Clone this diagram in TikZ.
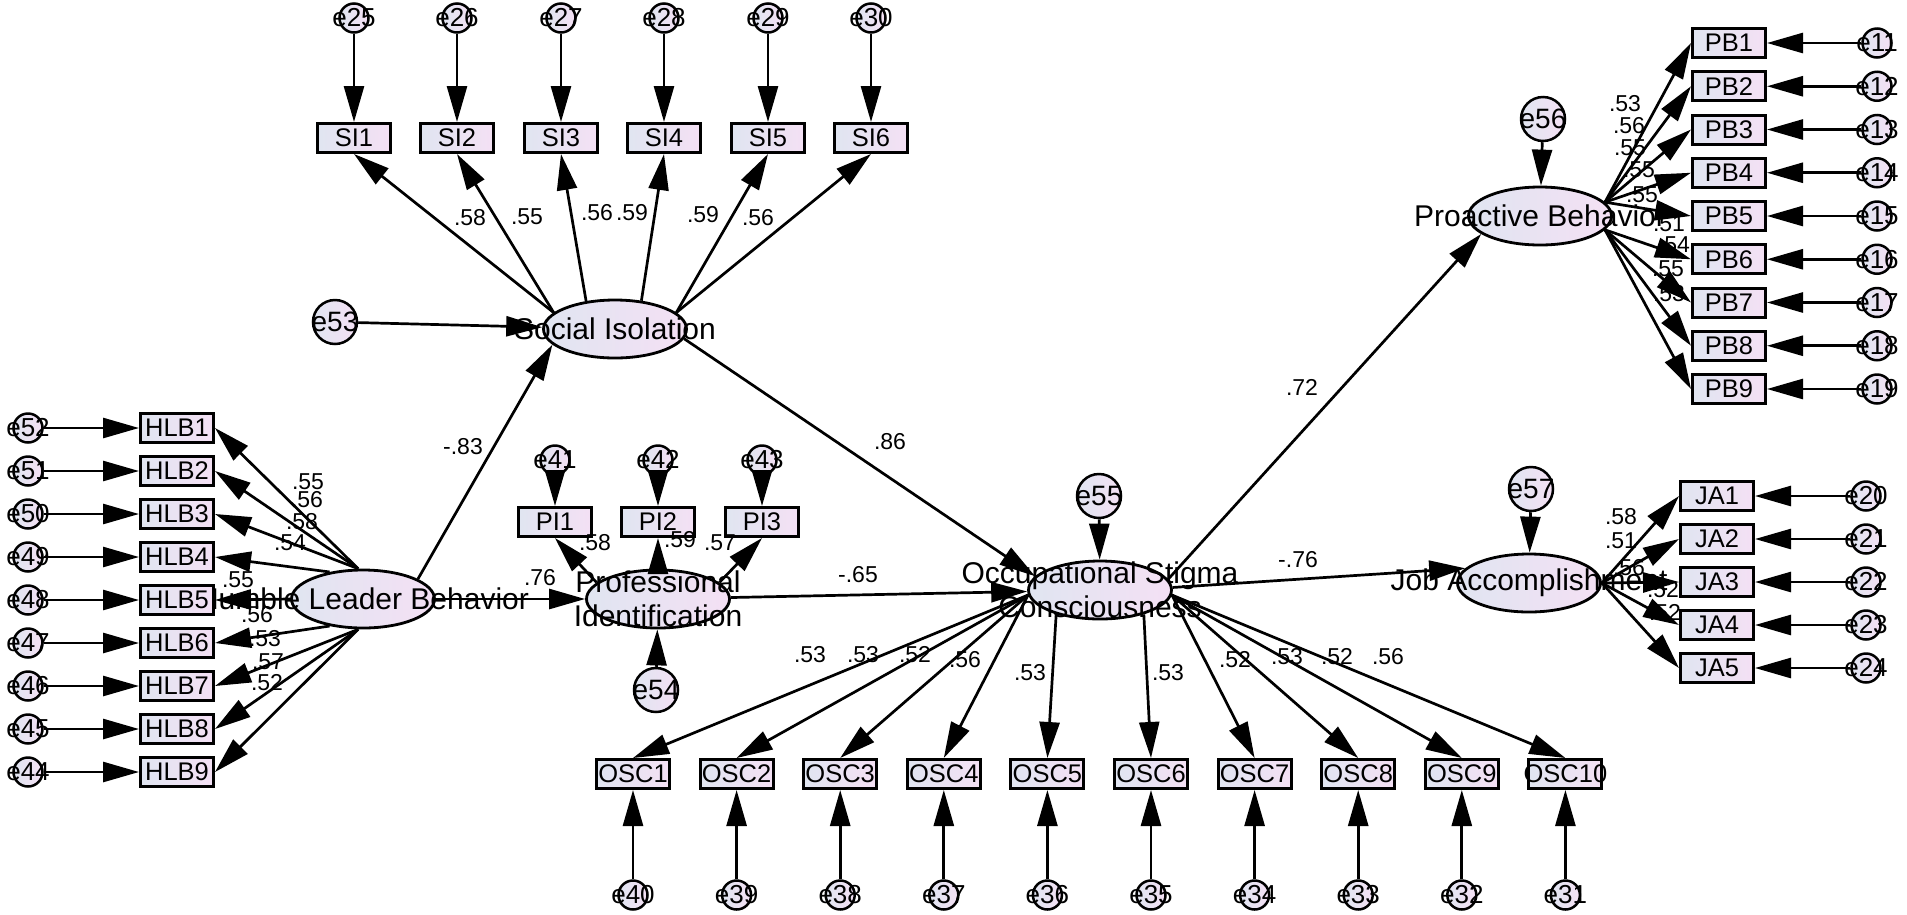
\documentclass[tikz,border=0pt]{standalone}
\usepackage{fontspec}
\setmainfont{Liberation Sans}
\usetikzlibrary{arrows.meta,shapes.geometric}
\definecolor{boxL}{RGB}{224,229,241}
\definecolor{boxR}{RGB}{244,224,244}
\begin{document}
\begin{tikzpicture}[x=1pt,y=-1pt,
  ln/.style={line width=2.7pt,-{Triangle[length=36pt,width=20pt]}},
  obs/.style={draw,line width=3pt,minimum width=73pt,minimum height=29pt,inner sep=0pt,left color=boxL,right color=boxR},
  lat/.style={ellipse,draw,line width=2.8pt,minimum width=143pt,minimum height=58pt,inner sep=0pt,left color=boxL,right color=boxR},
  err/.style={circle,draw,line width=2.5pt,minimum size=29pt,inner sep=0pt,left color=boxL,right color=boxR},
  berr/.style={err,minimum size=44pt},
  ltxt/.style={font=\fontsize{30}{34}\selectfont,inner sep=0pt,align=center},
  itxt/.style={font=\fontsize{25.5}{28}\selectfont,inner sep=0pt},
  etxt/.style={font=\fontsize{26}{28}\selectfont,inner sep=0pt},
  betxt/.style={font=\fontsize{28}{30}\selectfont,inner sep=0pt},
  coef/.style={font=\fontsize{23}{25}\selectfont,inner sep=0pt},
]
\useasboundingbox (0,0) rectangle (1907,914);
\fill[white] (0,0) rectangle (1907,914);

% latent variables
\node[lat,label={[ltxt]center:Humble Leader Behavior}] (hlb) at (363,599) {};
\node[lat,label={[ltxt]center:Social Isolation}] (si) at (615,329) {};
\node[lat,label={[ltxt]center:{Professional\\Identification}}] (pi) at (658,599) {};
\node[lat,label={[ltxt]center:{Occupational Stigma\\Consciousness}}] (osc) at (1100,590) {};
\node[lat,label={[ltxt]center:Proactive Behavior}] (pb) at (1540,216) {};
\node[lat,label={[ltxt]center:Job Accomplishment}] (ja) at (1529,583) {};

% disturbances
\node[berr,label={[betxt]center:e53}] (e53) at (335,322) {};
\node[berr,label={[betxt]center:e54}] (e54) at (656,690) {};
\node[berr,label={[betxt]center:e55}] (e55) at (1099,496) {};
\node[berr,label={[betxt]center:e56}] (e56) at (1543,119) {};
\node[berr,label={[betxt]center:e57}] (e57) at (1531,489) {};

% Social Isolation indicators
\foreach \i/\x/\e/\a in {1/354/25/165,2/457/26/165,3/561/27/136,4/664/28/47,5/768/29/15,6/871/30/15}{
  \node[obs,label={[itxt]center:SI\i}] (si\i) at (\x,138) {};
  \node[err,label={[etxt]center:e\e}] (e\e) at (\x,18) {};
  \draw[ln] (e\e) -- (si\i);
  \draw[ln] (si.\a) -- (si\i.south);
}

% Humble Leader Behavior indicators
\foreach \i/\e/\a in {1/52/99,2/51/99,3/50/99,4/49/141,5/48/180,6/47/219,7/46/261,8/45/261,9/44/261}{
  \pgfmathsetmacro\y{428+43*(\i-1)}
  \node[obs,label={[itxt]center:HLB\i}] (hlb\i) at (177,\y) {};
  \node[err,label={[etxt]center:e\e}] (e\e) at (28,\y) {};
  \draw[ln] (e\e) -- (hlb\i);
  \draw[ln] (hlb.\a) -- (hlb\i.east);
}

% Professional Identification indicators
\foreach \i/\x/\e/\a in {1/555/41/165,2/658/42/90,3/762/43/15}{
  \node[obs,label={[itxt]center:PI\i}] (pi\i) at (\x,522) {};
  \node[err,label={[etxt]center:e\e}] (e\e) at (\x,460) {};
  \draw[ln] (e\e) -- (pi\i);
  \draw[ln] (pi.\a) -- (pi\i.south);
}

% Occupational Stigma Consciousness indicators
\foreach \i/\e/\a in {1/40/184,2/39/184,3/38/184,4/37/184,5/36/209,6/35/331,7/34/356,8/33/356,9/32/356,10/31/356}{
  \pgfmathsetmacro\x{633+103.6*(\i-1)}
  \node[obs,label={[itxt]center:OSC\i}] (osc\i) at (\x,774) {};
  \node[err,label={[etxt]center:e\e}] (e\e) at (\x,895) {};
  \draw[ln] (e\e) -- (osc\i);
  \draw[ln] (osc.\a) -- (osc\i.north);
}

% Proactive Behavior indicators
\foreach \i/\a in {1/12,2/12,3/12,4/12,5/12,6/348,7/348,8/348,9/348}{
  \pgfmathsetmacro\y{43+43.25*(\i-1)}
  \pgfmathtruncatemacro\e{10+\i}
  \node[obs,label={[itxt]center:PB\i}] (pb\i) at (1729,\y) {};
  \node[err,label={[etxt]center:e\e}] (e\e) at (1877,\y) {};
  \draw[ln] (e\e) -- (pb\i);
  \draw[ln] (pb.\a) -- (pb\i.west);
}

% Job Accomplishment indicators
\foreach \i in {1,...,5}{
  \pgfmathsetmacro\y{496+43*(\i-1)}
  \pgfmathtruncatemacro\e{19+\i}
  \node[obs,label={[itxt]center:JA\i}] (ja\i) at (1717,\y) {};
  \node[err,label={[etxt]center:e\e}] (e\e) at (1866,\y) {};
  \draw[ln] (e\e) -- (ja\i);
  \draw[ln] (ja.east) -- (ja\i.west);
}

% structural paths
\draw[ln] (e53) -- (si);
\draw[ln] (hlb.20) -- (si.194);
\draw[ln] (hlb) -- (pi);
\draw[ln] (e54) -- (pi);
\draw[ln] (si.352) -- (osc.168);
\draw[ln] (pi) -- (osc);
\draw[ln] (e55) -- (osc);
\draw[ln] (osc.9) -- (pb.197);
\draw[ln] (e56) -- (pb);
\draw[ln] (osc.2) -- (ja.167);
\draw[ln] (e57) -- (ja);

% coefficients
\foreach \x/\y/\t [count=\n] in {
  470/218/.58, 527/217/.55, 597/213/.56, 632/213/.59, 703/215/.59, 758/218/.56,
  308/482/.55, 307/500/.56, 302/522/.58, 290/543/.54, 238/580/.55, 257/615/.56, 265/639/.53, 268/662/.57, 267/683/.52,
  463/447/-.83, 540/578/.76, 858/575/-.65, 890/442/.86, 1298/560/-.76, 1302/387/.72,
  595/543/.58, 680/540/.59, 720/543/.57,
  810/655/.53, 863/655/.53, 915/655/.52, 965/660/.56, 1030/673/.53, 1168/673/.53, 1235/660/.52, 1287/657/.53, 1337/657/.52, 1388/657/.56,
  1625/104/.53, 1629/126/.56, 1630/148/.55, 1639/170/.55, 1642/195/.55, 1669/224/.51, 1674/245/.54, 1668/269/.55, 1669/294/.53,
  1621/517/.58, 1621/541/.51, 1629/568/.56, 1663/590/.52, 1665/613/.52}{
  \node[coef] (c\n) at (\x,\y) {\t};
}
\end{tikzpicture}
\end{document}
